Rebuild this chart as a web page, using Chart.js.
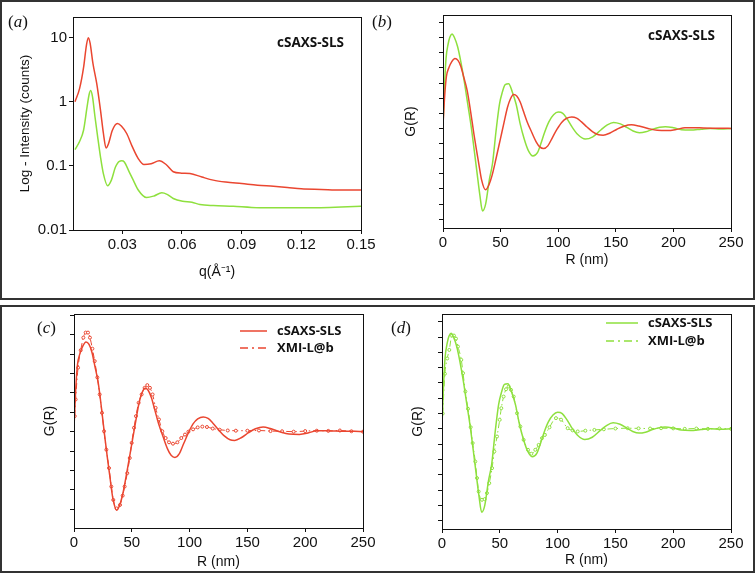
<!DOCTYPE html>
<html>
<head>
<meta charset="utf-8">
<script src="https://cdn.jsdelivr.net/npm/chart.js@4.4.0/dist/chart.umd.min.js"></script>
<style>
  body { margin: 0; background: #fff; width: 756px; height: 573px; position: relative; overflow: hidden; }
  .box { position: absolute; border: 2px solid #333; box-sizing: border-box; }
  canvas { position: absolute; }
  .lbl { position: absolute; font-family: "Liberation Serif", "Times New Roman", serif; font-size: 17px; color: #111; line-height: 20px; }
</style>
</head>
<body>
<div class="box" style="left:0;top:0;width:755px;height:300px"></div>
<div class="box" style="left:0;top:305px;width:755px;height:268px"></div>

<canvas id="chartA" width="378" height="298" style="left:0;top:0"></canvas>
<canvas id="chartB" width="375" height="298" style="left:378px;top:0"></canvas>
<canvas id="chartC" width="378" height="266" style="left:0;top:306px"></canvas>
<canvas id="chartD" width="375" height="266" style="left:378px;top:306px"></canvas>

<div class="lbl" style="left:8px;top:12px">(<i>a</i>)</div>
<div class="lbl" style="left:372px;top:12px">(<i>b</i>)</div>
<div class="lbl" style="left:37px;top:318px">(<i>c</i>)</div>
<div class="lbl" style="left:391px;top:318px">(<i>d</i>)</div>

<script>
// ---- data ----
// (a) SAXS intensity, log scale
const qRed   = [0.0062, 0.0085, 0.0105, 0.012, 0.0129, 0.0138, 0.0152, 0.0171, 0.019, 0.0205, 0.0218, 0.023, 0.025, 0.0275, 0.0295, 0.0322, 0.035, 0.038, 0.0409, 0.0445, 0.0486, 0.052, 0.0556, 0.0598, 0.064, 0.07, 0.0757, 0.082, 0.09, 0.098, 0.106, 0.113, 0.12, 0.13, 0.14, 0.15];
const iRed   = [1.0, 1.6, 3.4, 7.8, 10, 8.2, 4.0, 1.95, 0.75, 0.32, 0.19, 0.22, 0.36, 0.46, 0.42, 0.32, 0.2, 0.13, 0.105, 0.108, 0.12, 0.105, 0.081, 0.077, 0.076, 0.067, 0.06, 0.056, 0.053, 0.05, 0.048, 0.046, 0.044, 0.043, 0.042, 0.042];
const qGreen = [0.0062, 0.0085, 0.0105, 0.0122, 0.0133, 0.0141, 0.015, 0.0162, 0.0175, 0.019, 0.0205, 0.0226, 0.0245, 0.0265, 0.0285, 0.0297, 0.031, 0.0335, 0.0355, 0.038, 0.0422, 0.046, 0.0498, 0.0525, 0.0556, 0.0603, 0.065, 0.069, 0.0758, 0.0858, 0.095, 0.1026, 0.11, 0.12, 0.128, 0.14, 0.15];
const iGreen = [0.18, 0.24, 0.36, 0.8, 1.3, 1.5, 1.2, 0.6, 0.3, 0.14, 0.075, 0.049, 0.06, 0.095, 0.118, 0.12, 0.115, 0.08, 0.06, 0.042, 0.032, 0.034, 0.038, 0.036, 0.031, 0.028, 0.027, 0.025, 0.024, 0.0234, 0.0225, 0.0223, 0.0222, 0.0223, 0.0223, 0.0228, 0.0234];
const qTicks = [0.03, 0.06, 0.09, 0.12, 0.15];
const iTicks = [0.01, 0.1, 1, 10];

// G(R) curves, y in units of one axis tick
const rRedSaxs = [0, 1.5, 3, 5, 7.5, 10.4, 13, 15.5, 18, 21, 24, 26.8, 29, 31, 33.5, 36.9, 40, 42.6, 46, 49.8, 53, 56, 58.5, 61.3, 64, 67, 70, 73, 77, 81, 84, 87.3, 91, 95, 99, 103, 107, 111.8, 116, 120, 125, 130, 135, 139, 145, 151, 157, 163.6, 170, 178, 186, 195, 203, 210, 218, 226, 234, 242, 250];
const gRedSaxs = [0.2, 2.2, 3.45, 4.0, 4.4, 4.62, 4.5, 4.1, 3.4, 2.5, 1.1, -0.35, -1.4, -2.3, -3.4, -4.05, -3.7, -3.1, -2.0, -0.7, 0.4, 1.4, 1.95, 2.24, 2.15, 1.75, 1.1, 0.45, -0.25, -0.9, -1.22, -1.33, -1.15, -0.6, -0.05, 0.4, 0.66, 0.76, 0.68, 0.45, 0.1, -0.22, -0.42, -0.45, -0.3, -0.05, 0.15, 0.24, 0.16, 0.0, -0.12, -0.14, -0.06, 0.05, 0.05, 0.03, 0.02, 0.02, 0.0];
const rRedXmi  = [0.6, 1.4, 3.5, 5.8, 8.1, 10.1, 12.1, 13.8, 15.9, 17.9, 20.2, 22.2, 24.2, 26, 28, 30.3, 32.3, 34, 36.9, 39.8, 42.1, 43.8, 46.1, 48.2, 49.9, 51.9, 53.6, 55.9, 58.5, 61.1, 63.4, 65.7, 68, 70.6, 73.5, 76.4, 79.3, 82.2, 85.6, 89.4, 92.8, 96, 99, 103, 107, 111, 115, 120, 126, 133, 140, 150, 160, 170, 180, 190, 200, 210, 220, 230, 240, 250];
const gRedXmi  = [0.8, 1.66, 3.3, 4.2, 4.85, 5.11, 5.11, 4.85, 4.28, 3.64, 2.8, 1.92, 0.97, 0.02, -0.93, -1.88, -2.83, -3.52, -3.96, -3.78, -3.3, -2.83, -2.14, -1.36, -0.58, 0.2, 0.8, 1.49, 1.92, 2.26, 2.4, 2.26, 1.92, 1.23, 0.63, 0.02, -0.33, -0.55, -0.62, -0.55, -0.33, -0.15, 0.0, 0.12, 0.22, 0.26, 0.24, 0.16, 0.1, 0.06, 0.05, 0.05, 0.06, 0.03, 0.02, 0.0, 0.03, 0.05, 0.04, 0.06, 0.02, 0.0];
const rGreenSaxs = [0, 1.2, 2.6, 4.5, 6, 7.8, 10, 12.7, 15.5, 18.5, 21.5, 24.5, 27.2, 29.5, 32, 34.3, 37, 40.2, 43, 46, 49, 51.5, 54, 57, 60, 63.5, 67, 70.5, 74, 78, 82, 85, 88, 92, 96, 100, 104, 108, 112, 117, 123.5, 130, 137, 142, 148, 154, 160, 165, 170.5, 176, 182, 188, 193, 200, 207, 215, 224, 232, 241, 250];
const gGreenSaxs = [0.2, 2.6, 4.6, 5.6, 6.05, 6.25, 6.0, 5.4, 4.4, 3.1, 1.6, 0.1, -1.5, -2.9, -4.4, -5.45, -5.0, -3.4, -2.3, -0.2, 1.6, 2.4, 2.9, 2.95, 2.45, 1.6, 0.3, -0.7, -1.45, -1.82, -1.6, -1.0, -0.3, 0.45, 0.9, 1.08, 1.0, 0.6, 0.1, -0.4, -0.7, -0.55, -0.1, 0.2, 0.4, 0.3, 0.05, -0.17, -0.28, -0.22, -0.05, 0.08, 0.12, 0.05, -0.08, -0.11, -0.05, 0.0, -0.03, 0.0];
const rGreenXmi  = [0.6, 2.5, 4.5, 6.3, 8.6, 10.3, 12.1, 13.8, 16.7, 18.2, 20.2, 22.5, 24.8, 26.5, 28.8, 30.3, 31.7, 34.6, 36.9, 38.9, 40.9, 43.3, 45.3, 47.6, 49.9, 51.3, 53.3, 55.4, 57.7, 59.7, 62, 64.9, 67.8, 70.6, 74.4, 77.3, 80.7, 83.6, 86.5, 89, 93, 98.6, 103, 108.7, 113, 117.4, 124, 131.8, 140, 150, 160.6, 170, 180, 189.5, 200, 210, 220, 230, 240, 250];
const gGreenXmi  = [1.0, 3.6, 4.6, 5.16, 6.1, 6.1, 5.9, 5.38, 4.51, 3.64, 2.44, 1.31, 0.11, -0.93, -2.14, -3.22, -4.1, -4.64, -4.6, -4.2, -3.55, -2.57, -1.48, -0.5, 0.59, 1.35, 2.11, 2.59, 2.77, 2.55, 2.11, 1.02, 0.15, -0.72, -1.37, -1.63, -1.37, -1.05, -0.61, -0.4, 0.1, 0.7, 0.6, 0.04, -0.1, -0.17, -0.12, -0.07, -0.03, 0.02, 0.04, 0.03, 0.02, 0.04, 0.03, 0.0, 0.02, 0.0, 0.02, 0.0];
const rTicks = [0, 50, 100, 150, 200, 250];
const gTicksWide = [-6, -5, -4, -3, -2, -1, 0, 1, 2, 3, 4, 5, 6, 7];
const gTicksRed  = [-4, -3, -2, -1, 0, 1, 2, 3, 4, 5, 6];

const FONT = 'Arial, "Liberation Sans", sans-serif';
const BOLD = '"Open Sans", Arial, sans-serif';
const INK = '#111';
const RED = '#ea4630';
const GREEN = '#8ee03e';
const DASHDOT = [6, 3, 1.5, 3];

function toPts(xs, ys) { return xs.map((x, i) => ({ x: x, y: ys[i] })); }

function solid(label, xs, ys, color) {
  return { label: label, data: toPts(xs, ys), borderColor: color, borderWidth: 1.5, pointRadius: 0 };
}
function marked(label, xs, ys, color) {
  return { label: label, data: toPts(xs, ys), borderColor: color, borderWidth: 1, borderDash: DASHDOT,
           pointRadius: 1.5, pointBackgroundColor: '#fff', pointBorderColor: color, pointBorderWidth: 1 };
}

// box around the plot area
const framePlugin = {
  id: 'frame',
  afterDraw(chart) {
    const a = chart.chartArea, ctx = chart.ctx;
    ctx.save();
    ctx.strokeStyle = INK;
    ctx.lineWidth = 1;
    ctx.strokeRect(Math.round(a.left) + 0.5, Math.round(a.top) + 0.5, Math.round(a.right - a.left), Math.round(a.bottom - a.top));
    ctx.restore();
  }
};

// bold label in the corner of (a) and (b)
const notePlugin = {
  id: 'note',
  afterDraw(chart, args, opts) {
    if (!opts.text) return;
    const ctx = chart.ctx;
    ctx.save();
    ctx.font = 'bold 13.5px ' + BOLD;
    ctx.fillStyle = INK;
    ctx.textBaseline = 'middle';
    ctx.fillText(opts.text, opts.x, opts.y);
    ctx.restore();
  }
};

// legend drawn inside the plot for (c) and (d)
const keyPlugin = {
  id: 'key',
  afterDraw(chart, args, opts) {
    if (!opts.show) return;
    const ctx = chart.ctx;
    ctx.save();
    chart.data.datasets.forEach((ds, i) => {
      const y = opts.y + i * opts.gap;
      ctx.strokeStyle = ds.borderColor;
      ctx.lineWidth = 1.5;
      ctx.setLineDash(ds.borderDash ? [8, 4, 2, 4] : []);
      ctx.beginPath();
      ctx.moveTo(opts.x, y);
      ctx.lineTo(opts.x + opts.len, y);
      ctx.stroke();
      ctx.setLineDash([]);
      ctx.font = 'bold 13px ' + BOLD;
      ctx.fillStyle = INK;
      ctx.textBaseline = 'middle';
      ctx.fillText(ds.label, opts.x + opts.len + 10, y);
    });
    ctx.restore();
  }
};

function axis(o) {
  return {
    type: o.type || 'linear',
    position: o.pos,
    min: o.min,
    max: o.max,
    afterFit: o.fit,
    afterBuildTicks: s => { s.ticks = o.ticks.map(v => ({ value: v })); },
    grid: { drawOnChartArea: false, drawTicks: true, tickLength: 4, color: INK },
    border: { color: INK, width: 1 },
    ticks: {
      display: o.labels !== false,
      color: INK,
      font: { family: FONT, size: 15 },
      padding: 2,
      maxRotation: 0,
      autoSkip: false,
      callback: o.fmt || (v => String(v))
    },
    title: {
      display: true,
      text: o.title,
      color: INK,
      font: { family: FONT, size: o.titleSize || 14 },
      padding: { top: o.titlePad, bottom: o.titlePad }
    }
  };
}

function makeChart(id, g, datasets, xo, yo, extra) {
  xo.fit = s => { s.height = g.h - g.bottom; };
  yo.fit = s => { s.width = g.left; };
  xo.pos = 'bottom';
  yo.pos = 'left';
  return new Chart(document.getElementById(id), {
    type: 'line',
    data: { datasets: datasets },
    options: {
      responsive: false,
      animation: false,
      events: [],
      layout: { padding: { left: 0, top: g.top, right: g.w - g.right, bottom: 0 } },
      elements: { line: { cubicInterpolationMode: 'monotone' } },
      plugins: {
        legend: { display: false },
        tooltip: { enabled: false },
        note: extra.note || {},
        key: extra.key || {}
      },
      scales: { x: axis(xo), y: axis(yo) }
    },
    plugins: [framePlugin, notePlugin, keyPlugin]
  });
}

// (a)
makeChart('chartA', { w: 378, h: 298, left: 73, top: 17, right: 361, bottom: 230 },
  [solid('red', qRed, iRed, RED), solid('green', qGreen, iGreen, GREEN)],
  { min: 0.0052, max: 0.15, ticks: qTicks, fmt: v => v.toFixed(2), title: 'q(\u00C5\u207B\u00B9)', titlePad: 17.6 },
  { type: 'logarithmic', min: 0.01, max: 21, ticks: iTicks, fmt: v => String(v), title: 'Log - Intensity (counts)', titleSize: 13.5, titlePad: 17 },
  { note: { text: 'cSAXS-SLS', x: 277, y: 43 } });

// (b)
makeChart('chartB', { w: 375, h: 298, left: 65, top: 15, right: 353, bottom: 228 },
  [solid('red', rRedSaxs, gRedSaxs, RED), solid('green', rGreenSaxs, gGreenSaxs, GREEN)],
  { min: 0, max: 250, ticks: rTicks, title: 'R (nm)', titlePad: 29.6 },
  { min: -6.58, max: 7.5, ticks: gTicksWide, labels: false, title: 'G(R)', titlePad: 24.6 },
  { note: { text: 'cSAXS-SLS', x: 270, y: 36 } });

// (c)
makeChart('chartC', { w: 378, h: 266, left: 74, top: 8, right: 363, bottom: 222 },
  [solid('cSAXS-SLS', rRedSaxs, gRedSaxs, RED), marked('XMI-L@b', rRedXmi, gRedXmi, RED)],
  { min: 0, max: 250, ticks: rTicks, title: 'R (nm)', titlePad: 1.6 },
  { min: -4.97, max: 6.07, ticks: gTicksRed, labels: false, title: 'G(R)', titlePad: 41.6 },
  { key: { show: true, x: 240, y: 25, gap: 17, len: 27 } });

// (d)
makeChart('chartD', { w: 375, h: 266, left: 64, top: 8, right: 353, bottom: 223 },
  [solid('cSAXS-SLS', rGreenSaxs, gGreenSaxs, GREEN), marked('XMI-L@b', rGreenXmi, gGreenXmi, GREEN)],
  { min: 0, max: 250, ticks: rTicks, title: 'R (nm)', titlePad: 3.6 },
  { min: -6.55, max: 7.51, ticks: gTicksWide, labels: false, title: 'G(R)', titlePad: 31.6 },
  { key: { show: true, x: 228, y: 17, gap: 18, len: 32 } });
</script>
</body>
</html>
